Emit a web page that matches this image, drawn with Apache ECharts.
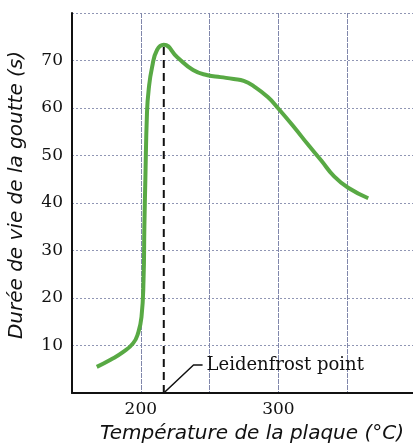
<!DOCTYPE html>
<html><head><meta charset="utf-8">
<script src="https://cdn.jsdelivr.net/npm/echarts@6/dist/echarts.min.js"></script>
<style>html,body{margin:0;padding:0;background:#fff}#c{width:413px;height:446px}</style>
</head><body><div id="c"></div>
<script>
var temperature = [168, 178, 187, 194.5, 198, 200.5, 202, 202.6, 203.3, 204.5, 205.7, 208.2, 211.8, 216.7, 226.5, 238, 248.5, 258, 267.5, 274.8, 282, 292.3, 299.6, 311.3, 321.5, 331, 340.5, 350.7, 365.3];
var lifetime = [5.5, 7, 8.6, 10.5, 12.6, 16, 24, 35, 44.8, 59, 63.8, 68.6, 72.2, 73.3, 70.7, 68, 66.9, 66.5, 66.1, 65.7, 64.6, 62.3, 60.0, 56, 52.3, 49.0, 45.6, 43.2, 41];
var peakTemp = [216.7, 216.7];
var peakLine = [0, 73.3];
var leaderTemp = [216.7, 238.3, 244.9];
var leaderTime = [0, 5.9, 5.9];
var xTickLabels = [200, 300];
var yTickLabels = [10, 20, 30, 40, 50, 60, 70];
var annotationText = 'Leidenfrost point';

function zip(a, b) { return a.map(function (v, i) { return [v, b[i]]; }); }

var chart = echarts.init(document.getElementById('c'));
chart.setOption({
  backgroundColor: '#ffffff',
  animation: false,
  grid: { left: 72, top: 13, bottom: 53, width: 344, outerBoundsMode: 'none', containLabel: false },
  xAxis: {
    type: 'value', min: 150, max: 400, interval: 50,
    name: 'Température de la plaque (°C)', nameLocation: 'middle', nameGap: 31,
    nameTextStyle: { fontFamily: 'DejaVu Sans', fontStyle: 'italic', fontSize: 20, color: '#111', padding: [0, 0, 0, 16] },
    axisLine: { lineStyle: { color: '#111', width: 2 } },
    axisTick: { show: false },
    axisLabel: { margin: 8, fontFamily: 'DejaVu Serif', fontSize: 17, color: '#111',
      formatter: function (v) { return xTickLabels.indexOf(v) >= 0 ? String(v) : ''; } },
    splitLine: { show: true, lineStyle: { color: '#8087ab', width: 1, type: [5, 1] } }
  },
  yAxis: {
    type: 'value', min: 0, max: 80, interval: 10,
    name: 'Durée de vie de la goutte (s)', nameLocation: 'middle', nameGap: 45,
    nameTextStyle: { fontFamily: 'DejaVu Sans', fontStyle: 'italic', fontSize: 20, color: '#111', padding: [0, 0, 0, 16] },
    axisLine: { show: true, lineStyle: { color: '#111', width: 2 } },
    axisTick: { show: false },
    axisLabel: { margin: 9, fontFamily: 'DejaVu Serif', fontSize: 17, color: '#111',
      formatter: function (v) { return yTickLabels.indexOf(v) >= 0 ? String(v) : ''; } },
    splitLine: { show: true, lineStyle: { color: '#9096b4', width: 1, type: [2, 2] } }
  },
  series: [
    { type: 'line', data: zip(temperature, lifetime), smooth: 0.5, showSymbol: false,
      lineStyle: { color: '#58a944', width: 4 }, z: 3 },
    { type: 'line', data: zip(peakTemp, peakLine), showSymbol: false,
      lineStyle: { color: '#111', width: 2, type: [8, 5] }, z: 2 },
    { type: 'line', data: zip(leaderTemp, leaderTime), showSymbol: false,
      lineStyle: { color: '#111', width: 1.5 }, z: 2,
      endLabel: { show: true, formatter: annotationText, fontFamily: 'DejaVu Serif', fontSize: 18, color: '#111', distance: 4 } }
  ]
});
</script></body></html>
